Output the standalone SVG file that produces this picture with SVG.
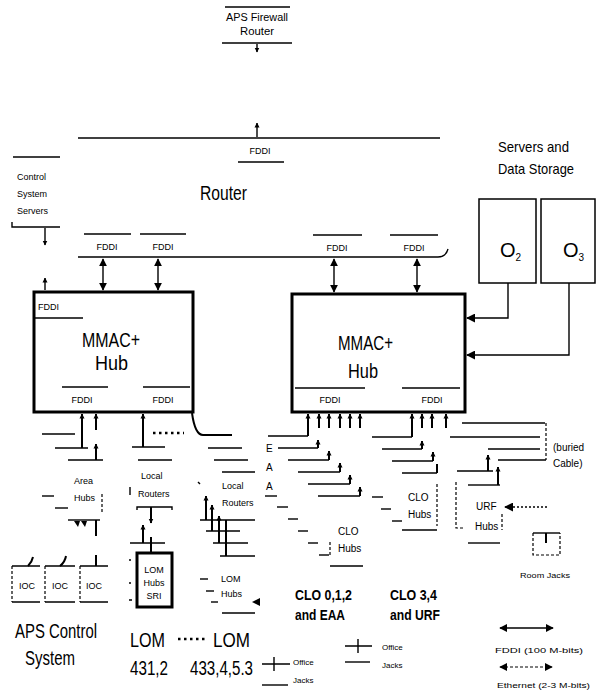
<svg xmlns="http://www.w3.org/2000/svg" width="596" height="693" viewBox="0 0 596 693">
<style>
.l{stroke:#000;stroke-width:1.4;fill:none}
.t{stroke:#000;stroke-width:2;fill:none}
.d{stroke:#000;stroke-width:1.2;fill:none;stroke-dasharray:3,2}
.dt{stroke:#000;stroke-width:2.5;fill:none;stroke-dasharray:2.5,3.5}
.bx{stroke:#000;stroke-width:3;fill:#fff}
.nb{stroke:#000;stroke-width:1.5;fill:#fff}
text{font-family:"Liberation Sans",Arial,sans-serif;fill:#000}
.s{font-size:9px}
.m{font-size:10px}
.b{font-size:20px}
.c{font-size:15px}
.sm{font-size:8px}
</style>
<defs>
<marker id="ae" viewBox="0 0 10 10" refX="9" refY="5" markerWidth="5" markerHeight="6" orient="auto" markerUnits="userSpaceOnUse"><path d="M0,0 L10,5 L0,10 z"/></marker>
<marker id="big" viewBox="0 0 10 10" refX="9" refY="5" markerWidth="9" markerHeight="9" orient="auto" markerUnits="userSpaceOnUse"><path d="M0,0 L10,5 L0,10 z"/></marker>
<marker id="lg" viewBox="0 0 10 10" refX="9" refY="5" markerWidth="8" markerHeight="8" orient="auto-start-reverse" markerUnits="userSpaceOnUse"><path d="M0,0 L10,5 L0,10 z"/></marker>
</defs>
<rect width="596" height="693" fill="#fff"/>

<g id="firewall">
<line class="l" x1="225" y1="7" x2="290" y2="7"/>
<text class="m" x="257" y="21" text-anchor="middle" textLength="62" lengthAdjust="spacingAndGlyphs">APS Firewall</text>
<text class="m" x="257" y="35" text-anchor="middle" textLength="34" lengthAdjust="spacingAndGlyphs">Router</text>
<line class="l" x1="222" y1="43" x2="292" y2="43"/>
</g>

<g id="router">
<line class="l" x1="78" y1="138" x2="440" y2="138"/>
<path class="l" d="M78,257 H438 Q446,257 448,249"/>
<line class="l" x1="238" y1="162" x2="284" y2="162"/>
<text class="s" x="260" y="154" text-anchor="middle">FDDI</text>
<text class="b" x="200" y="200" textLength="47" lengthAdjust="spacingAndGlyphs">Router</text>
<line class="l" x1="84" y1="234" x2="131" y2="234"/>
<line class="l" x1="140" y1="234" x2="186" y2="234"/>
<line class="l" x1="313" y1="235" x2="362" y2="235"/>
<line class="l" x1="390" y1="235" x2="438" y2="235"/>
<text class="s" x="107" y="250" text-anchor="middle">FDDI</text>
<text class="s" x="163" y="250" text-anchor="middle">FDDI</text>
<text class="s" x="337" y="251" text-anchor="middle">FDDI</text>
<text class="s" x="414" y="251" text-anchor="middle">FDDI</text>
</g>

<g id="control-servers">
<line class="l" x1="13" y1="157" x2="60" y2="157"/>
<text class="s" x="17" y="180">Control</text>
<text class="s" x="17" y="197">System</text>
<text class="s" x="17" y="214">Servers</text>
<path class="l" d="M12,222 V227 H60"/>
</g>

<g id="mmac1">
<rect class="bx" x="34" y="292" width="159" height="120"/>
<text class="s" x="38" y="310">FDDI</text>
<line class="l" x1="35" y1="318" x2="83" y2="318"/>
<text class="b" x="82" y="347" textLength="58" lengthAdjust="spacingAndGlyphs">MMAC+</text>
<text class="b" x="95" y="370" textLength="33" lengthAdjust="spacingAndGlyphs">Hub</text>
<line class="l" x1="62" y1="387" x2="108" y2="387"/>
<line class="l" x1="143" y1="387" x2="190" y2="387"/>
<text class="s" x="82" y="403" text-anchor="middle">FDDI</text>
<text class="s" x="163" y="403" text-anchor="middle">FDDI</text>
</g>

<g id="mmac2">
<rect class="bx" x="292" y="294" width="173" height="118"/>
<text class="b" x="338" y="350" textLength="55" lengthAdjust="spacingAndGlyphs">MMAC+</text>
<text class="b" x="348" y="378" textLength="30" lengthAdjust="spacingAndGlyphs">Hub</text>
<line class="l" x1="295" y1="388" x2="365" y2="388"/>
<line class="l" x1="402" y1="388" x2="460" y2="388"/>
<text class="s" x="330" y="403" text-anchor="middle">FDDI</text>
<text class="s" x="432" y="403" text-anchor="middle">FDDI</text>
</g>

<g id="servers">
<text class="c" x="498" y="152" textLength="71" lengthAdjust="spacingAndGlyphs">Servers and</text>
<text class="c" x="498" y="174" textLength="76" lengthAdjust="spacingAndGlyphs">Data Storage</text>
<rect class="nb" x="479" y="199" width="57" height="84"/>
<rect class="nb" x="541" y="199" width="54" height="84"/>
<text class="b" x="500" y="257">O<tspan font-size="10" dy="4">2</tspan></text>
<text class="b" x="563" y="257">O<tspan font-size="10" dy="4">3</tspan></text>
</g>

<g id="area-hubs">
<line class="l" x1="42" y1="434" x2="75" y2="434"/>
<line class="l" x1="55" y1="448" x2="88" y2="448"/>
<line class="l" x1="68" y1="460" x2="103" y2="460"/>
<text class="s" x="74" y="484">Area</text>
<text class="s" x="74" y="501">Hubs</text>
<line class="l" x1="42" y1="496" x2="54" y2="496"/>
<line class="l" x1="55" y1="508" x2="68" y2="508"/>
<line class="d" x1="102" y1="494" x2="102" y2="512"/>
<line class="l" x1="68" y1="520" x2="100" y2="520"/>
<path d="M74,521 L80,521 L78,527 z M81,521 L87,521 L85,527 z"/>
</g>

<g id="ioc">
<path class="l" d="M12,566 H40 M12,602 H40"/><line class="d" x1="12" y1="566" x2="12" y2="602"/>
<path class="l" d="M45,566 H75 M45,602 H75"/><line class="d" x1="45" y1="566" x2="45" y2="602"/>
<path class="l" d="M80,566 H108 M80,602 H108"/><line class="d" x1="80" y1="566" x2="80" y2="602"/>
<path class="t" d="M28,566 Q32,562 33,557"/>
<path class="t" d="M60,566 Q65,562 66,556"/>
<line class="t" x1="96" y1="555" x2="96" y2="566"/>
<text class="s" x="27" y="589" text-anchor="middle">IOC</text>
<text class="s" x="60" y="589" text-anchor="middle">IOC</text>
<text class="s" x="94" y="589" text-anchor="middle">IOC</text>
<text class="b" x="15" y="638" textLength="82" lengthAdjust="spacingAndGlyphs">APS Control</text>
<text class="b" x="25" y="665" textLength="50" lengthAdjust="spacingAndGlyphs">System</text>
</g>

<g id="local-routers-1">
<line class="l" x1="132" y1="447" x2="165" y2="447"/>
<line class="dt" x1="153" y1="433" x2="184" y2="433"/>
<line class="l" x1="138" y1="460" x2="172" y2="460"/>
<text class="s" x="141" y="479">Local</text>
<text class="s" x="138" y="497">Routers</text>
<line class="l" x1="130" y1="487" x2="130" y2="495"/>
<path class="l" d="M137,510 V507 H172 V510"/>
<line class="l" x1="130" y1="543" x2="165" y2="543"/>
</g>

<g id="lom-hubs-sri">
<rect class="bx" x="137" y="553" width="35" height="54"/>
<text class="s" x="154" y="573" text-anchor="middle">LOM</text>
<text class="s" x="154" y="586" text-anchor="middle">Hubs</text>
<text class="s" x="154" y="599" text-anchor="middle">SRI</text>
<path class="l" d="M129,560 H131 M129,583 H131 M129,600 H132"/>
<text class="b" x="130" y="647" textLength="35" lengthAdjust="spacingAndGlyphs">LOM</text>
<line class="dt" x1="178" y1="639" x2="206" y2="639"/>
<text class="b" x="130" y="675" textLength="38" lengthAdjust="spacingAndGlyphs">431,2</text>
</g>

<g id="local-routers-2">
<line class="l" x1="208" y1="448" x2="242" y2="448"/>
<line class="l" x1="214" y1="460" x2="248" y2="460"/>
<line class="l" x1="222" y1="472" x2="255" y2="472"/>
<text class="s" x="222" y="489">Local</text>
<text class="s" x="222" y="506">Routers</text>
<line class="l" x1="198" y1="482" x2="200" y2="484"/>
<line class="l" x1="200" y1="520" x2="255" y2="520"/>
<line class="l" x1="206" y1="531" x2="240" y2="531"/>
<line class="l" x1="213" y1="543" x2="248" y2="543"/>
<line class="l" x1="220" y1="556" x2="255" y2="556"/>
</g>

<g id="lom-hubs">
<text class="s" x="221" y="582">LOM</text>
<text class="s" x="221" y="597">Hubs</text>
<line class="l" x1="200" y1="579" x2="208" y2="579"/>
<line class="l" x1="206" y1="591" x2="214" y2="591"/>
<line class="l" x1="211" y1="602" x2="218" y2="602"/>
<path d="M252,602 L260,598 L260,606 z"/>
<line class="l" x1="222" y1="613" x2="255" y2="613"/>
<text class="b" x="213" y="647" textLength="37" lengthAdjust="spacingAndGlyphs">LOM</text>
<text class="b" x="190" y="675" textLength="63" lengthAdjust="spacingAndGlyphs">433,4,5.3</text>
</g>

<g id="office-jacks-1">
<path class="l" d="M262,664 H290 M274,657 V671"/>
<line class="l" x1="262" y1="685" x2="288" y2="685"/>
<text class="sm" x="293" y="665">Office</text>
<text class="sm" x="293" y="683">Jacks</text>
</g>

<g id="clo-hubs-1">
<text class="m" x="266" y="452">E</text>
<text class="m" x="266" y="471">A</text>
<text class="m" x="266" y="490">A</text>
<line class="l" x1="265" y1="496" x2="277" y2="496"/>
<line class="l" x1="268" y1="436" x2="308" y2="436"/>
<line class="l" x1="278" y1="448" x2="318" y2="448"/>
<line class="l" x1="288" y1="460" x2="329" y2="460"/>
<line class="l" x1="298" y1="472" x2="340" y2="472"/>
<line class="l" x1="308" y1="484" x2="350" y2="484"/>
<line class="l" x1="318" y1="496" x2="360" y2="496"/>
<line class="l" x1="277" y1="507" x2="288" y2="507"/>
<line class="l" x1="288" y1="519" x2="298" y2="519"/>
<line class="l" x1="298" y1="531" x2="308" y2="531"/>
<line class="l" x1="308" y1="543" x2="318" y2="543"/>
<line class="l" x1="319" y1="555" x2="329" y2="555"/>
<line class="d" x1="330" y1="542" x2="330" y2="556"/>
<text class="m" x="338" y="535">CLO</text>
<text class="m" x="338" y="552">Hubs</text>
<line class="l" x1="330" y1="566" x2="363" y2="566"/>
<text class="c" x="295" y="600" font-weight="bold" textLength="57" lengthAdjust="spacingAndGlyphs">CLO 0,1,2</text>
<text class="c" x="295" y="620" font-weight="bold" textLength="50" lengthAdjust="spacingAndGlyphs">and EAA</text>
</g>

<g id="clo-hubs-2">
<line class="l" x1="372" y1="437" x2="412" y2="437"/>
<line class="l" x1="382" y1="449" x2="422" y2="449"/>
<line class="l" x1="392" y1="461" x2="433" y2="461"/>
<line class="l" x1="402" y1="473" x2="437" y2="473"/>
<line class="l" x1="372" y1="497" x2="383" y2="497"/>
<line class="l" x1="381" y1="509" x2="391" y2="509"/>
<line class="l" x1="392" y1="521" x2="402" y2="521"/>
<text class="m" x="408" y="501">CLO</text>
<text class="m" x="408" y="518">Hubs</text>
<line class="d" x1="437" y1="484" x2="437" y2="526"/>
<line class="l" x1="402" y1="530" x2="437" y2="530"/>
<text class="c" x="390" y="600" font-weight="bold" textLength="47" lengthAdjust="spacingAndGlyphs">CLO 3,4</text>
<text class="c" x="390" y="620" font-weight="bold" textLength="50" lengthAdjust="spacingAndGlyphs">and URF</text>
</g>

<g id="buried-cable">
<line class="l" x1="462" y1="423" x2="545" y2="423"/>
<line class="l" x1="450" y1="437" x2="540" y2="437"/>
<line class="l" x1="488" y1="449" x2="540" y2="449"/>
<line class="l" x1="498" y1="460" x2="546" y2="460"/>
<line class="d" x1="546" y1="423" x2="546" y2="460"/>
<text class="m" x="553" y="451">(buried</text>
<text class="m" x="553" y="467">Cable)</text>
</g>

<g id="urf-hubs">
<line class="l" x1="457" y1="471" x2="493" y2="471"/>
<line class="l" x1="468" y1="485" x2="500" y2="485"/>
<path class="d" d="M456,482 V528 H465"/>
<line class="d" x1="502" y1="514" x2="502" y2="530"/>
<text class="m" x="476" y="510">URF</text>
<text class="m" x="475" y="530">Hubs</text>
<line class="l" x1="468" y1="543" x2="500" y2="543"/>
</g>

<g id="room-jacks">
<line class="l" x1="533" y1="533" x2="560" y2="533"/>
<path class="d" d="M533,533 V555 H560 V533"/>
<line class="t" x1="546" y1="533" x2="546" y2="543"/>
<text class="sm" x="520" y="578" textLength="50" lengthAdjust="spacingAndGlyphs">Room Jacks</text>
</g>

<g id="office-jacks-2">
<path class="l" d="M345,646 H372 M358,639 V653"/>
<line class="l" x1="345" y1="662" x2="370" y2="662"/>
<text class="sm" x="382" y="650">Office</text>
<text class="sm" x="382" y="668">Jacks</text>
</g>

<g id="legend">
<line class="l" x1="500" y1="628" x2="553" y2="628" marker-start="url(#lg)" marker-end="url(#lg)"/>
<text class="sm" x="495" y="653" textLength="88" lengthAdjust="spacingAndGlyphs">FDDI (100 M-bits)</text>
<line class="d" x1="500" y1="667" x2="552" y2="667" marker-start="url(#lg)" marker-end="url(#lg)"/>
<text class="sm" x="497" y="688" textLength="93" lengthAdjust="spacingAndGlyphs">Ethernet (2-3 M-bits)</text>
</g>

<g id="connectors">
<line class="l" x1="257" y1="44" x2="257" y2="52" marker-end="url(#ae)"/>
<line class="l" x1="257" y1="137" x2="257" y2="123" marker-end="url(#ae)"/>
<line class="l" x1="45" y1="228" x2="45" y2="245" marker-end="url(#ae)"/>
<line class="l" x1="45" y1="290" x2="45" y2="278" marker-end="url(#ae)"/>
<line class="l" x1="103" y1="259" x2="103" y2="290" marker-start="url(#lg)" marker-end="url(#lg)"/>
<line class="l" x1="158" y1="259" x2="158" y2="290" marker-start="url(#lg)" marker-end="url(#lg)"/>
<line class="l" x1="334" y1="259" x2="334" y2="292" marker-start="url(#lg)" marker-end="url(#lg)"/>
<line class="l" x1="417" y1="259" x2="417" y2="292" marker-start="url(#lg)" marker-end="url(#lg)"/>
<path class="l" d="M508,283 V318 H467" marker-end="url(#big)"/>
<path class="l" d="M569,283 V355 H467" marker-end="url(#big)"/>
<line class="t" x1="82" y1="448" x2="82" y2="414" marker-end="url(#ae)"/>
<line class="t" x1="96" y1="430" x2="96" y2="414" marker-end="url(#ae)"/>
<line class="t" x1="96" y1="460" x2="96" y2="444" marker-end="url(#ae)"/>
<line class="t" x1="96" y1="520" x2="96" y2="536"/>
<line class="t" x1="143" y1="447" x2="143" y2="414" marker-end="url(#ae)"/>
<line class="t" x1="151" y1="507" x2="151" y2="523" marker-end="url(#ae)"/>
<line class="t" x1="143" y1="543" x2="143" y2="525" marker-end="url(#ae)"/>
<line class="t" x1="151" y1="537" x2="151" y2="553"/>
<path class="t" d="M192,413 Q195,435 203,435 H232"/>
<line class="t" x1="206" y1="520" x2="206" y2="496" marker-end="url(#ae)"/>
<line class="t" x1="212" y1="531" x2="212" y2="505" marker-end="url(#ae)"/>
<line class="t" x1="219" y1="543" x2="219" y2="516" marker-end="url(#ae)"/>
<line class="t" x1="226" y1="556" x2="226" y2="520"/>
<line class="t" x1="308" y1="436" x2="308" y2="414" marker-end="url(#ae)"/>
<line class="t" x1="319" y1="428" x2="319" y2="414" marker-end="url(#ae)"/>
<line class="t" x1="329" y1="428" x2="329" y2="414" marker-end="url(#ae)"/>
<line class="t" x1="340" y1="428" x2="340" y2="414" marker-end="url(#ae)"/>
<line class="t" x1="350" y1="428" x2="350" y2="414" marker-end="url(#ae)"/>
<line class="t" x1="360" y1="428" x2="360" y2="414" marker-end="url(#ae)"/>
<line class="t" x1="318" y1="448" x2="318" y2="440" marker-end="url(#ae)"/>
<line class="t" x1="329" y1="460" x2="329" y2="451" marker-end="url(#ae)"/>
<line class="t" x1="340" y1="472" x2="340" y2="463" marker-end="url(#ae)"/>
<line class="t" x1="350" y1="484" x2="350" y2="475" marker-end="url(#ae)"/>
<line class="t" x1="360" y1="496" x2="360" y2="487" marker-end="url(#ae)"/>
<line class="t" x1="412" y1="437" x2="412" y2="414" marker-end="url(#ae)"/>
<line class="t" x1="422" y1="428" x2="422" y2="414" marker-end="url(#ae)"/>
<line class="t" x1="432" y1="428" x2="432" y2="414" marker-end="url(#ae)"/>
<line class="t" x1="446" y1="428" x2="446" y2="414" marker-end="url(#ae)"/>
<line class="t" x1="422" y1="449" x2="422" y2="441" marker-end="url(#ae)"/>
<line class="t" x1="433" y1="461" x2="433" y2="452" marker-end="url(#ae)"/>
<line class="t" x1="437" y1="473" x2="437" y2="464"/>
<line class="t" x1="488" y1="471" x2="488" y2="455" marker-end="url(#ae)"/>
<line class="t" x1="498" y1="485" x2="498" y2="467" marker-end="url(#ae)"/>
<line class="dt" x1="547" y1="507" x2="505" y2="507" style="stroke-width:1.3;stroke-dasharray:2,2" marker-end="url(#big)"/>
</g>
</svg>
